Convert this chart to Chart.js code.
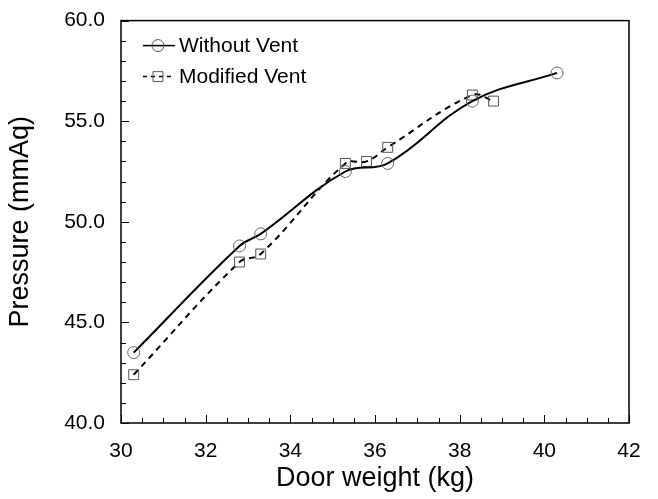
<!DOCTYPE html>
<html>
<head>
<meta charset="utf-8">
<script src="https://cdn.jsdelivr.net/npm/chart.js@4"></script>
<style>
  html, body { margin: 0; padding: 0; background: #fff; }
  #wrap { width: 658px; height: 499px; }
</style>
</head>
<body>
<div id="wrap"><canvas id="myChart" width="658" height="499"></canvas></div>
<script>
// data
var withoutX = [30.3, 32.8, 33.3, 35.3, 36.3, 38.3, 40.3];
var withoutY = [43.5, 48.8, 49.4, 52.5, 52.9, 56.0, 57.4];
var modifiedX = [30.3, 32.8, 33.3, 35.3, 35.8, 36.3, 38.3, 38.8];
var modifiedY = [42.4, 48.0, 48.4, 52.9, 53.0, 53.7, 56.3, 56.0];
var seriesNames = ["Without Vent", "Modified Vent"];

function pairs(xs, ys) {
  return xs.map(function (x, i) { return {x: x, y: ys[i]}; });
}

var FONT = "'Liberation Sans', Arial, sans-serif";

// frame, inward ticks and the legend box inside the plot
var frame = {
  id: "frame",
  afterDraw: function (chart) {
    var ctx = chart.ctx, a = chart.chartArea;
    var xs = chart.scales.x, ys = chart.scales.y;
    ctx.save();
    ctx.strokeStyle = "#000";
    ctx.lineWidth = 1.5;
    ctx.strokeRect(a.left, a.top, a.right - a.left, a.bottom - a.top);
    ctx.lineWidth = 1;
    ctx.beginPath();
    for (var v = 30; v <= 42.001; v += 0.5) {
      var px = Math.round(xs.getPixelForValue(v)) + 0.5;
      var len = (Math.abs(v % 2) < 0.01) ? 8 : 5;
      ctx.moveTo(px, a.bottom);
      ctx.lineTo(px, a.bottom - len);
    }
    for (var w = 40; w <= 60.001; w += 1) {
      var py = Math.round(ys.getPixelForValue(w)) + 0.5;
      var l2 = (w % 5 === 0) ? 8 : 5;
      ctx.moveTo(a.left, py);
      ctx.lineTo(a.left + l2, py);
    }
    ctx.stroke();

    // legend
    var rows = [
      {y: a.top + 25, dash: [], style: "circle", r: 6},
      {y: a.top + 56, dash: [4, 4], style: "rect", r: 7}
    ];
    rows.forEach(function (row, i) {
      ctx.setLineDash(row.dash);
      ctx.strokeStyle = "#000";
      ctx.lineWidth = 1.5;
      ctx.beginPath();
      ctx.moveTo(a.left + 22, row.y);
      ctx.lineTo(a.left + 54, row.y);
      ctx.stroke();
      ctx.setLineDash([]);
      ctx.lineWidth = 1;
      ctx.strokeStyle = "#555";
      ctx.fillStyle = "rgba(0,0,0,0)";
      Chart.helpers.drawPoint(ctx, {pointStyle: row.style, radius: row.r, borderWidth: 1}, a.left + 37, row.y);
      ctx.fillStyle = "#000";
      ctx.font = "21px " + FONT;
      ctx.textBaseline = "middle";
      ctx.fillText(seriesNames[i], a.left + 58, row.y + 1);
    });
    ctx.restore();
  }
};

new Chart("myChart", {
  type: "line",
  data: {
    datasets: [{
      label: seriesNames[0],
      data: pairs(withoutX, withoutY),
      borderColor: "#000",
      borderWidth: 2,
      tension: 0.4,
      pointStyle: "circle",
      pointRadius: 6,
      pointBorderWidth: 1,
      pointBorderColor: "#666",
      pointBackgroundColor: "rgba(0,0,0,0)",
      fill: false
    }, {
      label: seriesNames[1],
      data: pairs(modifiedX, modifiedY),
      borderColor: "#000",
      borderWidth: 2,
      borderDash: [6, 5],
      tension: 0.4,
      pointStyle: "rect",
      pointRadius: 7,
      pointBorderWidth: 1,
      pointBorderColor: "#555",
      pointBackgroundColor: "rgba(0,0,0,0)",
      fill: false
    }]
  },
  options: {
    responsive: false,
    animation: false,
    layout: {padding: {top: 17, right: 29, left: 0, bottom: 0}},
    plugins: {legend: {display: false}, tooltip: {enabled: false}},
    scales: {
      x: {
        type: "linear",
        min: 30, max: 42,
        grid: {display: false},
        border: {display: false},
        ticks: {stepSize: 2, color: "#000", padding: 8, font: {family: FONT, size: 21}},
        title: {display: true, text: "Door weight (kg)", color: "#000", font: {family: FONT, size: 27}, padding: {top: 2}},
        afterFit: function (s) { s.height = 76; }
      },
      y: {
        min: 40, max: 60,
        grid: {display: false},
        border: {display: false},
        ticks: {
          stepSize: 5, color: "#000", padding: 8, font: {family: FONT, size: 21},
          callback: function (v) { return v.toFixed(1); }
        },
        title: {display: true, text: "Pressure (mmAq)", color: "#000", font: {family: FONT, size: 27}},
        afterFit: function (s) { s.width = 121; }
      }
    }
  },
  plugins: [frame]
});
</script>
</body>
</html>
